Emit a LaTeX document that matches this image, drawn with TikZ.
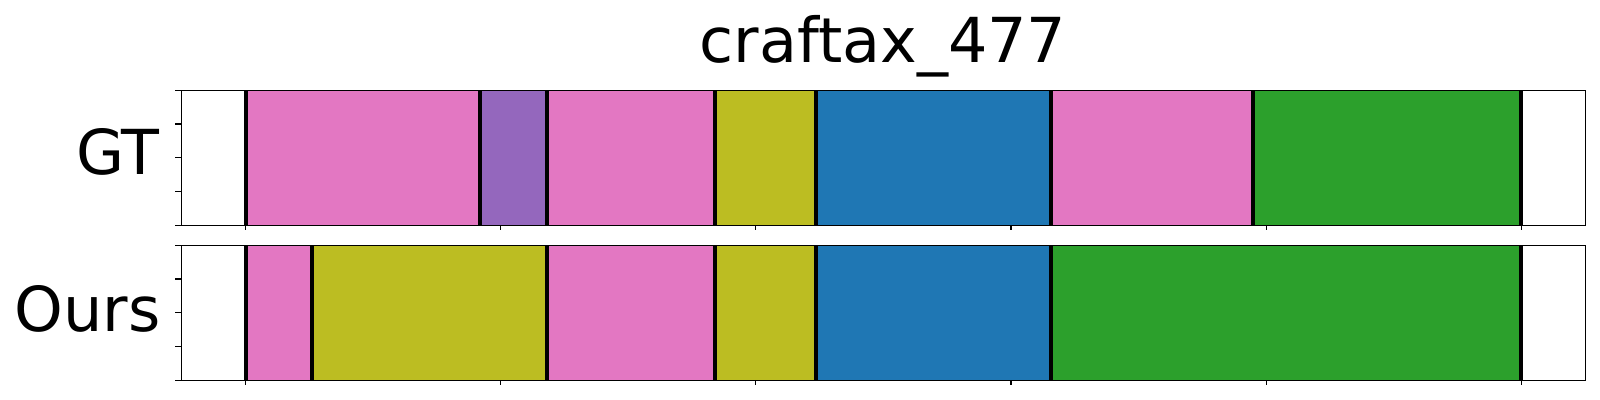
\documentclass[tikz,border=0pt]{standalone}
\usepackage{fontspec}
\setmainfont{DejaVu Sans}
\definecolor{tpink}{HTML}{E377C2}
\definecolor{tpurple}{HTML}{9467BD}
\definecolor{tolive}{HTML}{BCBD22}
\definecolor{tblue}{HTML}{1F77B4}
\definecolor{tgreen}{HTML}{2CA02C}
\tikzset{
  bigtext/.style={inner sep=0pt, font=\fontsize{46.5pt}{56pt}\selectfont},
  frame/.style={draw=black, line width=0.9pt},
  bound/.style={draw=black, line width=3pt},
  tickline/.style={draw=black, line width=0.8pt}
}
\begin{document}
\begin{tikzpicture}[x=0.75pt,y=-0.75pt]
\useasboundingbox (0,0) rectangle (1600,400);
% GT axis
\foreach \a/\b/\c in {245.5/480/tpink,480/547.3/tpurple,547.3/715/tpink,715/816/tolive,816/1051/tblue,1051/1253/tpink,1253/1521/tgreen}
  \fill[\c] (\a,90.3) rectangle (\b,225.3);
\foreach \x in {245.5,480,547.3,715,816,1051,1253,1521}
  \draw[bound] (\x,90.3) -- (\x,225.3);
\draw[frame] (181.3,90.3) rectangle (1585.7,225.3);
\foreach \y in {90.3,124,157.8,191.5,225.3}
  \draw[tickline] (181.3,\y) -- ++(-6,0);
\foreach \x in {245.7,500.8,755.9,1011,1266.1,1521.2}
  \draw[tickline] (\x,225.3) -- ++(0,5);
% Ours axis
\foreach \a/\b/\c in {245.5/312/tpink,312/547/tolive,547/715/tpink,715/816/tolive,816/1051/tblue,1051/1521/tgreen}
  \fill[\c] (\a,245.3) rectangle (\b,380.3);
\foreach \x in {245.5,312,547,715,816,1051,1521}
  \draw[bound] (\x,245.3) -- (\x,380.3);
\draw[frame] (181.3,245.3) rectangle (1585.7,380.3);
\foreach \y in {245.3,279,312.8,346.5,380.3}
  \draw[tickline] (181.3,\y) -- ++(-6,0);
\foreach \x in {245.7,500.8,755.9,1011,1266.1,1521.2}
  \draw[tickline] (\x,380.3) -- ++(0,5);
% labels
\node[bigtext, anchor=base] (title) at (883,62.3) {craftax\_477};
\node[bigtext, anchor=base east] (gt) at (160,174.3) {GT};
\node[bigtext, anchor=base east] (ours) at (161,331) {Ours};
\end{tikzpicture}
\end{document}
